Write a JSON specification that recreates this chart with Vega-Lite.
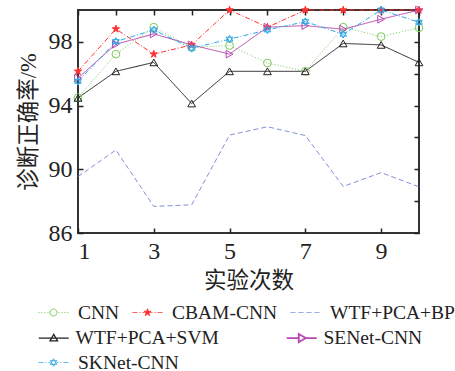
{
  "$schema": "https://vega.github.io/schema/vega-lite/v6.json",
  "width": 341,
  "height": 223,
  "autosize": {"type": "none"},
  "padding": {"left": 78, "top": 10, "right": 36, "bottom": 138},
  "background": "white",
  "config": {
    "font": "Liberation Serif",
    "view": {"stroke": "#333", "strokeWidth": 2},
    "axis": {"grid": false, "domain": false, "tickColor": "#222", "tickWidth": 1.5, "labelColor": "#222", "titleColor": "#222"},
    "legend": {"orient": "none", "title": null, "direction": "horizontal", "labelFont": "Liberation Serif", "labelFontSize": 19.5, "labelColor": "#222", "labelOffset": 9, "symbolSize": 900, "symbolType": "stroke", "rowPadding": 4}
  },
  "data": {
    "values": [
      {"series": "CNN", "x": 1, "y": 94.5}, {"series": "CNN", "x": 2, "y": 97.23}, {"series": "CNN", "x": 3, "y": 98.92}, {"series": "CNN", "x": 4, "y": 97.65}, {"series": "CNN", "x": 5, "y": 97.77}, {"series": "CNN", "x": 6, "y": 96.67}, {"series": "CNN", "x": 7, "y": 96.15}, {"series": "CNN", "x": 8, "y": 98.92}, {"series": "CNN", "x": 9, "y": 98.33}, {"series": "CNN", "x": 10, "y": 98.88},
      {"series": "CBAM-CNN", "x": 1, "y": 96.15}, {"series": "CBAM-CNN", "x": 2, "y": 98.81}, {"series": "CBAM-CNN", "x": 3, "y": 97.23}, {"series": "CBAM-CNN", "x": 4, "y": 97.81}, {"series": "CBAM-CNN", "x": 5, "y": 100}, {"series": "CBAM-CNN", "x": 6, "y": 98.92}, {"series": "CBAM-CNN", "x": 7, "y": 100}, {"series": "CBAM-CNN", "x": 8, "y": 100}, {"series": "CBAM-CNN", "x": 9, "y": 100}, {"series": "CBAM-CNN", "x": 10, "y": 100},
      {"series": "WTF+PCA+BP", "x": 1, "y": 89.54}, {"series": "WTF+PCA+BP", "x": 2, "y": 91.21}, {"series": "WTF+PCA+BP", "x": 3, "y": 87.67}, {"series": "WTF+PCA+BP", "x": 4, "y": 87.77}, {"series": "WTF+PCA+BP", "x": 5, "y": 92.15}, {"series": "WTF+PCA+BP", "x": 6, "y": 92.67}, {"series": "WTF+PCA+BP", "x": 7, "y": 92.12}, {"series": "WTF+PCA+BP", "x": 8, "y": 88.92}, {"series": "WTF+PCA+BP", "x": 9, "y": 89.79}, {"series": "WTF+PCA+BP", "x": 10, "y": 88.9},
      {"series": "WTF+PCA+SVM", "x": 1, "y": 94.48}, {"series": "WTF+PCA+SVM", "x": 2, "y": 96.15}, {"series": "WTF+PCA+SVM", "x": 3, "y": 96.71}, {"series": "WTF+PCA+SVM", "x": 4, "y": 94.13}, {"series": "WTF+PCA+SVM", "x": 5, "y": 96.15}, {"series": "WTF+PCA+SVM", "x": 6, "y": 96.15}, {"series": "WTF+PCA+SVM", "x": 7, "y": 96.15}, {"series": "WTF+PCA+SVM", "x": 8, "y": 97.9}, {"series": "WTF+PCA+SVM", "x": 9, "y": 97.81}, {"series": "WTF+PCA+SVM", "x": 10, "y": 96.71},
      {"series": "SENet-CNN", "x": 1, "y": 95.73}, {"series": "SENet-CNN", "x": 2, "y": 97.85}, {"series": "SENet-CNN", "x": 3, "y": 98.5}, {"series": "SENet-CNN", "x": 4, "y": 97.81}, {"series": "SENet-CNN", "x": 5, "y": 97.23}, {"series": "SENet-CNN", "x": 6, "y": 98.92}, {"series": "SENet-CNN", "x": 7, "y": 99.02}, {"series": "SENet-CNN", "x": 8, "y": 98.79}, {"series": "SENet-CNN", "x": 9, "y": 99.42}, {"series": "SENet-CNN", "x": 10, "y": 100},
      {"series": "SKNet-CNN", "x": 1, "y": 95.52}, {"series": "SKNet-CNN", "x": 2, "y": 98.02}, {"series": "SKNet-CNN", "x": 3, "y": 98.75}, {"series": "SKNet-CNN", "x": 4, "y": 97.6}, {"series": "SKNet-CNN", "x": 5, "y": 98.17}, {"series": "SKNet-CNN", "x": 6, "y": 98.75}, {"series": "SKNet-CNN", "x": 7, "y": 99.27}, {"series": "SKNet-CNN", "x": 8, "y": 98.48}, {"series": "SKNet-CNN", "x": 9, "y": 100}, {"series": "SKNet-CNN", "x": 10, "y": 99.23}
    ]
  },
  "layer": [
    {
      "mark": {"type": "line", "clip": false},
      "encoding": {
        "x": {"field": "x", "type": "quantitative", "scale": {"domain": [1, 10], "nice": false, "zero": false},
          "axis": {"orient": "bottom", "values": [1, 3, 5, 7, 9], "tickSize": -5, "labelFontSize": 24, "labelPadding": 11, "labelFont": "Liberation Serif", "title": "实验次数", "titleFont": "Liberation Serif, Noto Sans CJK SC", "titleFontSize": 22.5, "titleFontWeight": "normal", "titlePadding": 6}},
        "y": {"field": "y", "type": "quantitative", "scale": {"domain": [86, 100], "nice": false, "zero": false},
          "axis": {"orient": "left", "values": [86, 90, 94, 98], "tickSize": -5, "labelFontSize": 24, "labelPadding": 11, "labelFont": "Liberation Serif", "title": "诊断正确率/%", "titleFont": "Liberation Serif, Noto Sans CJK SC", "titleFontSize": 22.5, "titleFontWeight": "normal", "titlePadding": 8}},
        "color": {"field": "series", "type": "nominal",
          "scale": {"domain": ["CNN", "CBAM-CNN", "WTF+PCA+BP", "WTF+PCA+SVM", "SENet-CNN", "SKNet-CNN"], "range": ["#7cc85c", "#ff3030", "#8090d8", "#222222", "#b845b0", "#30a8e8"]},
          "legend": {
            "legendX": -40, "legendY": 287, "columns": 3, "columnPadding": 10,
            "values": ["CNN", "CBAM-CNN", "WTF+PCA+BP"],
            "encode": {"symbols": {"update": {
              "shape": {"signal": "datum.value === 'CNN' ? 'M-1,0H-0.93M-0.8,0H-0.73M-0.6,0H-0.53M-0.4,0H-0.33M0.33,0H0.4M0.53,0H0.6M0.73,0H0.8M0.93,0H1M0.23,0A0.23,0.23 0 1,1 -0.23,0A0.23,0.23 0 1,1 0.23,0Z' : datum.value === 'CBAM-CNN' ? 'M-1,0H-0.67M-0.53,0H-0.47M-0.33,0H-0.2M0.2,0H0.33M0.47,0H0.53M0.67,0H1M0,-0.25L0.055,-0.077L0.238,-0.077L0.09,0.03L0.148,0.2L0,0.095L-0.148,0.2L-0.09,0.03L-0.238,-0.077L-0.055,-0.077Z' : 'M-1,0H-0.67M-0.47,0H-0.13M0.07,0H0.4M0.6,0H0.93'"},
              "size": {"value": 900},
              "stroke": {"signal": "datum.value === 'CNN' ? '#7cc85c' : datum.value === 'CBAM-CNN' ? '#ff3030' : '#8090d8'"},
              "fill": {"signal": "datum.value === 'CBAM-CNN' ? '#ff3030' : 'white'"},
              "strokeWidth": {"value": 1},
              "opacity": {"value": 1},
              "strokeDash": {"value": [1, 0]}
            }}}
          }},
        "strokeDash": {"field": "series", "type": "nominal",
          "scale": {"domain": ["WTF+PCA+SVM", "SENet-CNN", "SKNet-CNN", "CNN", "CBAM-CNN", "WTF+PCA+BP"], "range": [[1, 0], [1, 0], [5, 2, 1, 2], [1, 2], [5, 2, 1, 2], [5, 3]]},
          "legend": {
            "legendX": -34, "legendY": 318, "columns": 2, "columnPadding": 64, "symbolSize": 900, "labelOffset": 12, "symbolType": "stroke",
            "values": ["WTF+PCA+SVM", "SENet-CNN"],
            "encode": {"symbols": {"update": {
              "shape": {"signal": "datum.value === 'WTF+PCA+SVM' ? 'M-1,0H1M0,-0.25L0.25,0.18L-0.25,0.18Z' : 'M-1,0H-0.2M0.27,0H1M-0.2,-0.27L0.27,0L-0.2,0.27Z'"},
              "size": {"value": 900},
              "stroke": {"signal": "datum.value === 'WTF+PCA+SVM' ? '#222222' : '#b845b0'"},
              "fill": {"value": "white"},
              "strokeWidth": {"signal": "datum.value === 'SENet-CNN' ? 1.8 : 1.3"},
              "opacity": {"value": 1},
              "strokeDash": {"value": [1, 0]}
            }}}
          }},
        "strokeWidth": {"field": "series", "type": "nominal",
          "scale": {"domain": ["SKNet-CNN", "CNN", "CBAM-CNN", "WTF+PCA+BP", "WTF+PCA+SVM", "SENet-CNN"], "range": [1, 1, 1, 1, 1.3, 1.6]},
          "legend": {
            "legendX": -40, "legendY": 337, "columns": 1,
            "values": ["SKNet-CNN"],
            "encode": {"symbols": {"update": {
              "shape": {"value": "M-1,0H-0.67M-0.53,0H-0.47M-0.33,0H-0.25M0.25,0H0.33M0.47,0H0.53M0.67,0H1M0,-0.25L0.217,0.125L-0.217,0.125ZM0,0.25L-0.217,-0.125L0.217,-0.125Z"},
              "size": {"value": 900},
              "stroke": {"value": "#30a8e8"},
              "fill": {"value": "white"},
              "strokeWidth": {"value": 1},
              "opacity": {"value": 1},
              "strokeDash": {"value": [1, 0]}
            }}}
          }}
      }
    },
    {
      "transform": [{"filter": "datum.series !== 'WTF+PCA+BP'"}],
      "mark": {"type": "point", "clip": false, "filled": false, "size": 60, "strokeWidth": 1, "opacity": 1},
      "encoding": {
        "x": {"field": "x", "type": "quantitative", "scale": {"domain": [1, 10], "nice": false, "zero": false},
          "axis": {"orient": "top", "values": [1, 2, 3, 4, 5, 6, 7, 8, 9, 10], "tickSize": -5, "labels": false, "title": null}},
        "y": {"field": "y", "type": "quantitative", "scale": {"domain": [86, 100], "nice": false, "zero": false},
          "axis": {"orient": "right", "values": [86, 88, 90, 92, 94, 96, 98, 100], "tickSize": -5, "labels": false, "title": null}},
        "color": {"field": "series", "type": "nominal"},
        "shape": {"field": "series", "type": "nominal", "legend": null,
          "scale": {"domain": ["CNN", "CBAM-CNN", "WTF+PCA+SVM", "SENet-CNN", "SKNet-CNN"],
            "range": ["circle", "M0,-1L0.22,-0.31L0.95,-0.31L0.36,0.12L0.59,0.81L0,0.38L-0.59,0.81L-0.36,0.12L-0.95,-0.31L-0.22,-0.31Z", "triangle-up", "triangle-right", "M0,-1L0.866,0.5L-0.866,0.5ZM0,1L-0.866,-0.5L0.866,-0.5Z"]}},
        "fill": {"condition": {"test": "datum.series === 'CBAM-CNN'", "value": "#ff3030"}, "value": "transparent"}
      }
    }
  ],
  "resolve": {"scale": {"x": "independent", "y": "independent"}, "axis": {"x": "independent", "y": "independent"}}
}
